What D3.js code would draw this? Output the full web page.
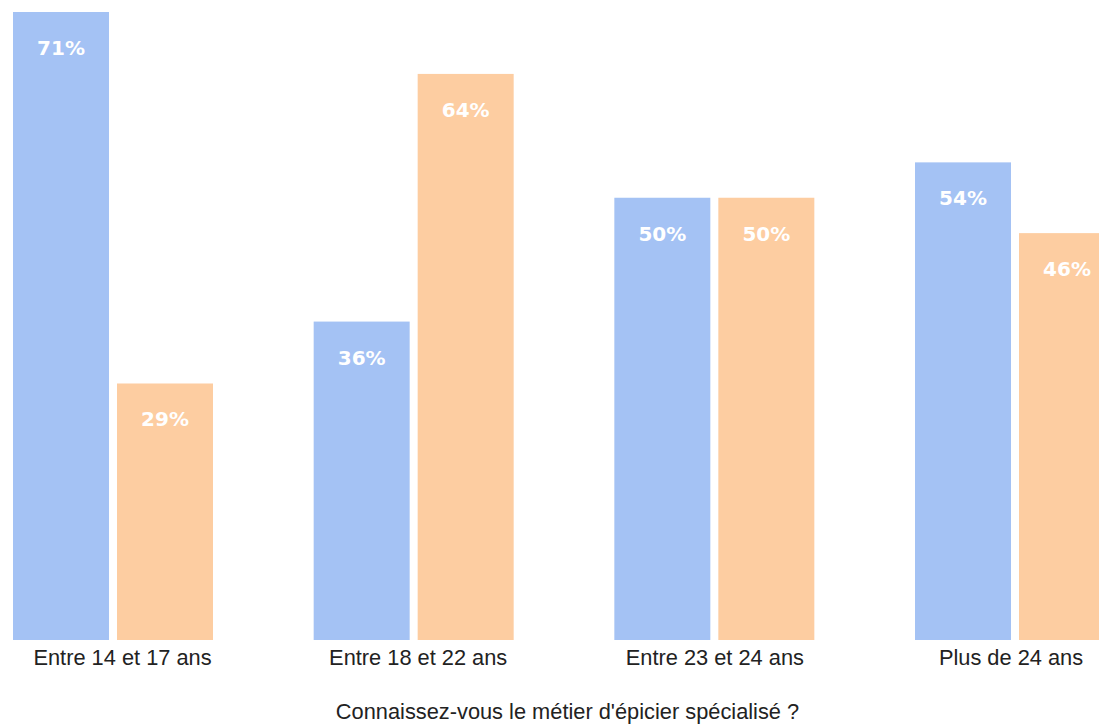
<!DOCTYPE html>
<html>
<head>
<meta charset="utf-8">
<script src="https://cdn.jsdelivr.net/npm/d3@7"></script>
<style>
  html, body { margin: 0; padding: 0; background: #ffffff; overflow: hidden; }
  svg { display: block; }
</style>
</head>
<body>
<svg id="chart" width="1099" height="725"></svg>
<script>
// Age groups and the share of "Oui" / "Non" answers (percent)
const categories = ["Entre 14 et 17 ans", "Entre 18 et 22 ans", "Entre 23 et 24 ans", "Plus de 24 ans"];
const seriesNames = ["Oui", "Non"];
const ouiValues = [71, 36, 50, 54];
const nonValues = [29, 64, 50, 46];
const axisTitle = "Connaissez-vous le métier d'épicier spécialisé ?";

const colors = ["#a4c2f4", "#fdcda1"];

const svg = d3.select("#chart");

const rows = categories.map((c, i) => ({ category: c, values: [ouiValues[i], nonValues[i]] }));

// group layout: each group holds two 96px bars with an 8px gap
const groupWidth = 200;
const firstLeft = 13, lastLeft = 915;
const x0 = d3.scalePoint()
  .domain(categories)
  .range([firstLeft, lastLeft]);

const x1 = d3.scaleBand()
  .domain(seriesNames)
  .range([0, groupWidth])
  .paddingInner(8 / 104)
  .paddingOuter(0);

const y = d3.scaleLinear()
  .domain([0, 71])
  .range([640, 12]);

const groups = svg.append("g")
  .selectAll("g")
  .data(rows)
  .join("g")
  .attr("transform", d => `translate(${x0(d.category)},0)`);

const bars = groups.selectAll("g.bar")
  .data(d => d.values.map((v, k) => ({ series: seriesNames[k], value: v, k })))
  .join("g")
  .attr("class", "bar");

bars.append("rect")
  .attr("x", d => x1(d.series))
  .attr("y", d => y(d.value))
  .attr("width", x1.bandwidth())
  .attr("height", d => y(0) - y(d.value))
  .attr("fill", d => colors[d.k]);

bars.append("text")
  .attr("x", d => x1(d.series) + x1.bandwidth() / 2)
  .attr("y", d => y(d.value) + 43)
  .attr("text-anchor", "middle")
  .attr("fill", "#ffffff")
  .style("font-family", "'DejaVu Sans', sans-serif")
  .style("font-weight", "bold")
  .style("font-size", "20px")
  .text(d => d.value + "%");

// category labels under each group, nudged slightly per label
const labelShift = [9, 4, 0, -4.5];
const xAxis = d3.axisBottom(x0.copy().range([firstLeft + groupWidth / 2, lastLeft + groupWidth / 2]))
  .tickSize(0)
  .tickPadding(0);

const axisG = svg.append("g")
  .attr("transform", "translate(0,650)")
  .call(xAxis);
axisG.select(".domain").remove();
axisG.selectAll("text")
  .attr("dy", "0.71em")
  .attr("dx", (d, i) => labelShift[i])
  .attr("fill", "#222222")
  .style("font-family", "'Liberation Sans', Arial, sans-serif")
  .style("font-size", "21.8px");

svg.append("text")
  .attr("x", 567.5)
  .attr("y", 719)
  .attr("text-anchor", "middle")
  .attr("fill", "#222222")
  .style("font-family", "'Liberation Sans', Arial, sans-serif")
  .style("font-size", "21.8px")
  .text(axisTitle);
</script>
</body>
</html>
